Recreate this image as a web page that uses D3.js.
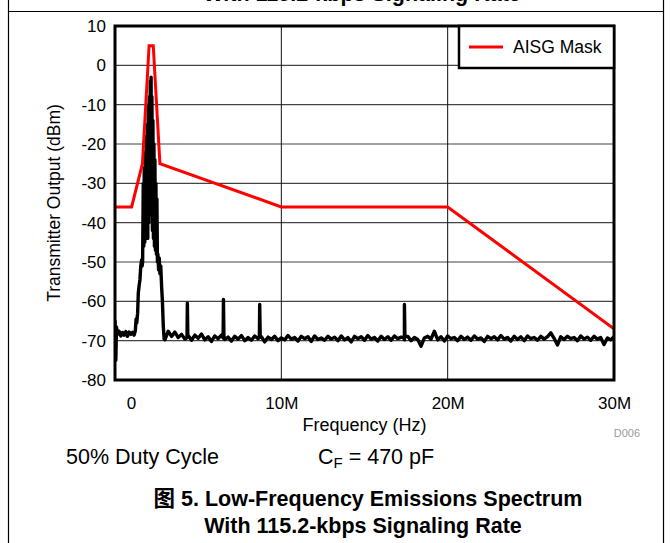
<!DOCTYPE html>
<html>
<head>
<meta charset="utf-8">
<script src="https://cdn.jsdelivr.net/npm/d3@7"></script>
<style>
  body { margin: 0; background: #fff; }
  svg text { font-family: "Liberation Sans", Arial, sans-serif; }
</style>
</head>
<body>
<svg id="chart"></svg>
<script>
// AISG mask corner points: [frequency in MHz, dBm]
const maskPoints = [
    [0, -36], [1.0, -36], [1.65, -25], [2.05, 5], [2.3, 5],
    [2.7, -25], [10, -36], [20, -36], [30, -67]
];

// measured trace around the carrier (MHz, dBm)
const carrierTrace = [
    [0.00, -64.8], [0.05, -75], [0.09, -66.5], [0.15, -68.4], [0.25, -67.6], [0.35, -68.8],
    [0.45, -67.9], [0.55, -68.6], [0.65, -67.7], [0.75, -68.9], [0.85, -67.8], [0.95, -68.4],
    [1.05, -67.9], [1.15, -68.6], [1.22, -67.5], [1.27, -64.5], [1.31, -65.5], [1.36, -63],
    [1.40, -58], [1.45, -56], [1.50, -54.5], [1.55, -51], [1.60, -49.5], [1.63, -51],
    [1.66, -50], [1.70, -30], [1.73, -46], [1.76, -26], [1.79, -45], [1.82, -22],
    [1.85, -44], [1.88, -18], [1.91, -42], [1.94, -15], [1.97, -44], [2.00, -10],
    [2.03, -40], [2.06, -8], [2.09, -38], [2.12, -4], [2.15, -30], [2.17, -3],
    [2.19, -36], [2.22, -8], [2.25, -42], [2.28, -14], [2.31, -44], [2.34, -20],
    [2.37, -46], [2.40, -24], [2.43, -47], [2.46, -30], [2.49, -48], [2.52, -34],
    [2.55, -50], [2.58, -48], [2.62, -52], [2.66, -49], [2.70, -53], [2.75, -51],
    [2.80, -56], [2.85, -60], [2.90, -66], [2.95, -69.5]
];

// harmonic spurs of the 2.176 MHz carrier (MHz, dBm)
const harmonicSpurs = [
    [4.33, -69.2], [4.35, -60.5], [4.38, -69.0],
    [6.50, -69.3], [6.52, -59.5], [6.55, -69.1],
    [8.68, -69.2], [8.70, -60.8], [8.73, -69.0],
    [17.38, -69.3], [17.40, -60.8], [17.43, -69.0]
];

// noise floor, one reading every 0.2 MHz from 3.0 MHz to 30.0 MHz (dBm)
const floorStart = 3.0;
const floorStep = 0.2;
const noiseFloor = [
    -69.8, -67.6, -68.9, -67.8, -69.2, -68.4, -69.6, -68.7, -69.9, -68.6,
    -69.4, -68.3, -69.8, -69.0, -70.2, -68.8, -69.5, -68.6, -69.7, -69.1,
    -70.1, -68.9, -69.6, -68.7, -70.0, -69.2, -69.9, -68.8, -69.5, -69.0,
    -70.3, -69.1, -69.7, -68.9, -70.0, -69.3, -69.8, -68.7, -69.6, -69.2,
    -70.1, -68.9, -69.5, -69.0, -70.2, -68.8, -69.7, -69.3, -69.9, -68.9,
    -69.6, -69.1, -70.0, -68.8, -69.8, -69.2, -70.3, -68.9, -69.5, -69.0,
    -69.9, -68.7, -69.6, -69.2, -70.1, -68.9, -69.7, -69.0, -69.9, -68.8,
    -69.5, -69.1, -69.8, -68.9, -70.0, -69.2, -69.7, -71.4, -69.3, -68.9,
    -69.6, -67.6, -69.8, -69.0, -70.1, -68.8, -69.5, -69.2, -70.0, -68.9,
    -69.7, -69.1, -69.9, -68.8, -69.6, -69.3, -70.2, -68.9, -69.5, -69.0,
    -69.8, -68.7, -69.6, -69.2, -70.1, -68.9, -69.7, -69.0, -70.0, -68.8,
    -69.5, -69.2, -69.9, -68.9, -69.6, -69.0, -68.0, -69.4, -71.1, -69.0,
    -69.7, -68.9, -69.5, -69.2, -70.0, -68.8, -69.6, -69.1, -69.9, -68.9,
    -69.6, -69.2, -71.0, -69.3, -69.8, -69.0
];

const xTicks = [0, 10, 20, 30];
const xTickLabels = ['0', '10M', '20M', '30M'];
const yTicks = [-80, -70, -60, -50, -40, -30, -20, -10, 0, 10];

class SpectrumChart {
    constructor(_config){
        this.config = {
            parentElement: _config.parentElement,
            containerWidth: _config.containerWidth || 671,
            containerHeight: _config.containerHeight || 543,
            margin: {top: 26, right: 57, bottom: 163, left: 115}
        }
        this.initVis();
    }

    initVis(){
        let vis = this;

        vis.width = vis.config.containerWidth - vis.config.margin.left - vis.config.margin.right;
        vis.height = vis.config.containerHeight - vis.config.margin.top - vis.config.margin.bottom;

        vis.svg = d3.select(vis.config.parentElement)
            .attr('width', vis.config.containerWidth)
            .attr('height', vis.config.containerHeight);

        // page frame from the datasheet
        vis.svg.append('path')
            .attr('d', 'M8.5,0V543M663.5,0V543M8.5,11.5H663.5')
            .attr('fill', 'none')
            .attr('stroke', '#000')
            .attr('stroke-width', 1.2);

        // tail of the previous figure caption, cut off at the top of the crop
        vis.svg.append('text')
            .attr('x', 362)
            .attr('y', 0.5)
            .attr('text-anchor', 'middle')
            .attr('font-size', 21.5)
            .attr('font-weight', 'bold')
            .text('With 115.2-kbps Signaling Rate');

        vis.chart = vis.svg.append('g')
            .attr('transform', `translate(${vis.config.margin.left}, ${vis.config.margin.top})`);

        vis.xScale = d3.scaleLinear()
            .domain([0, 30])
            .range([0, vis.width]);

        vis.yScale = d3.scaleLinear()
            .domain([-80, 10])
            .range([vis.height, 0]);

        vis.updateVis();
    }

    updateVis(){
        let vis = this;

        // build the black trace from its pieces
        vis.trace = carrierTrace
            .concat(noiseFloor.map((v, i) => [floorStart + i * floorStep, v]))
            .concat(harmonicSpurs)
            .sort((a, b) => a[0] - b[0]);

        vis.renderVis();
    }

    renderVis(){
        let vis = this;

        // grid
        vis.chart.append('g')
            .selectAll('line')
            .data(yTicks.slice(1, -1))
            .join('line')
            .attr('x1', 0)
            .attr('x2', vis.width)
            .attr('y1', d => vis.yScale(d))
            .attr('y2', d => vis.yScale(d))
            .attr('stroke', '#444')
            .attr('stroke-width', 1.2);

        vis.chart.append('g')
            .selectAll('line')
            .data(xTicks.slice(1, -1))
            .join('line')
            .attr('x1', d => vis.xScale(d))
            .attr('x2', d => vis.xScale(d))
            .attr('y1', 0)
            .attr('y2', vis.height)
            .attr('stroke', '#111')
            .attr('stroke-width', 1);

        vis.chart.append('clipPath')
            .attr('id', 'plot-clip')
            .append('rect')
            .attr('width', vis.width)
            .attr('height', vis.height);

        const line = d3.line()
            .x(d => vis.xScale(d[0]))
            .y(d => vis.yScale(d[1]));

        vis.chart.append('path')
            .datum(vis.trace)
            .attr('clip-path', 'url(#plot-clip)')
            .attr('fill', 'none')
            .attr('stroke', '#000')
            .attr('stroke-width', 3.4)
            .attr('stroke-linejoin', 'round')
            .attr('d', line);

        vis.chart.append('path')
            .datum(maskPoints)
            .attr('clip-path', 'url(#plot-clip)')
            .attr('fill', 'none')
            .attr('stroke', '#ff0000')
            .attr('stroke-width', 3)
            .attr('d', line);

        // plot border
        vis.chart.append('rect')
            .attr('width', vis.width)
            .attr('height', vis.height)
            .attr('fill', 'none')
            .attr('stroke', '#000')
            .attr('stroke-width', 3);

        // axes
        vis.xAxis = d3.axisBottom(vis.xScale)
            .tickValues(xTicks)
            .tickFormat((d, i) => xTickLabels[i])
            .tickSize(0)
            .tickPadding(17);

        vis.yAxis = d3.axisLeft(vis.yScale)
            .tickValues(yTicks)
            .tickFormat(d => String(d))
            .tickSize(0)
            .tickPadding(9);

        vis.xAxisGroup = vis.chart.append('g')
            .attr('class', 'axis x-axis')
            .attr('transform', `translate(0, ${vis.height})`)
            .call(vis.xAxis);

        vis.yAxisGroup = vis.chart.append('g')
            .attr('class', 'axis y-axis')
            .call(vis.yAxis);

        vis.chart.selectAll('.axis .domain').remove();
        vis.chart.selectAll('.axis text')
            .attr('font-family', '"Liberation Sans", Arial, sans-serif')
            .attr('font-size', 17)
            .attr('fill', '#000');

        // the "0" label sits a little right of the origin in the original
        vis.xAxisGroup.selectAll('.tick text')
            .filter(d => d === 0)
            .attr('dx', 16);

        // axis titles
        vis.chart.append('text')
            .attr('x', vis.width / 2)
            .attr('y', vis.height + 51)
            .attr('text-anchor', 'middle')
            .attr('font-size', 18)
            .text('Frequency (Hz)');

        vis.chart.append('text')
            .attr('transform', `translate(${-55}, ${vis.height / 2}) rotate(-90)`)
            .attr('text-anchor', 'middle')
            .attr('font-size', 17.5)
            .text('Transmitter Output (dBm)');

        vis.chart.append('text')
            .attr('x', vis.width + 26)
            .attr('y', vis.height + 57)
            .attr('text-anchor', 'end')
            .attr('font-size', 11)
            .attr('fill', '#999')
            .text('D006');

        // legend
        const legend = vis.chart.append('g')
            .attr('transform', `translate(${vis.width - 155}, 0)`);

        legend.append('rect')
            .attr('width', 155)
            .attr('height', 42)
            .attr('fill', '#fff')
            .attr('stroke', '#000')
            .attr('stroke-width', 2.5);

        legend.append('line')
            .attr('x1', 10)
            .attr('x2', 44)
            .attr('y1', 21)
            .attr('y2', 21)
            .attr('stroke', '#ff0000')
            .attr('stroke-width', 3);

        legend.append('text')
            .attr('x', 54)
            .attr('y', 27)
            .attr('font-size', 17.5)
            .text('AISG Mask');

        // test conditions
        vis.svg.append('text')
            .attr('x', 66)
            .attr('y', 464)
            .attr('font-size', 21.5)
            .text('50% Duty Cycle');

        const cf = vis.svg.append('text')
            .attr('x', 318)
            .attr('y', 464)
            .attr('font-size', 21.5);
        cf.append('tspan').text('C');
        cf.append('tspan').attr('font-size', 15).attr('dy', 4).text('F');
        cf.append('tspan').attr('dy', -4).text(' = 470 pF');

        // figure caption
        vis.svg.append('text')
            .attr('x', 368)
            .attr('y', 506)
            .attr('text-anchor', 'middle')
            .attr('font-size', 21.5)
            .attr('font-weight', 'bold')
            .call(t => {
                t.append('tspan')
                    .attr('font-family', '"Noto Sans CJK SC", sans-serif')
                    .text('图');
                t.append('tspan').text(' 5. Low-Frequency Emissions Spectrum');
            });

        vis.svg.append('text')
            .attr('x', 363)
            .attr('y', 533)
            .attr('text-anchor', 'middle')
            .attr('font-size', 21.5)
            .attr('font-weight', 'bold')
            .text('With 115.2-kbps Signaling Rate');
    }
}

new SpectrumChart({parentElement: '#chart'});
</script>
</body>
</html>
